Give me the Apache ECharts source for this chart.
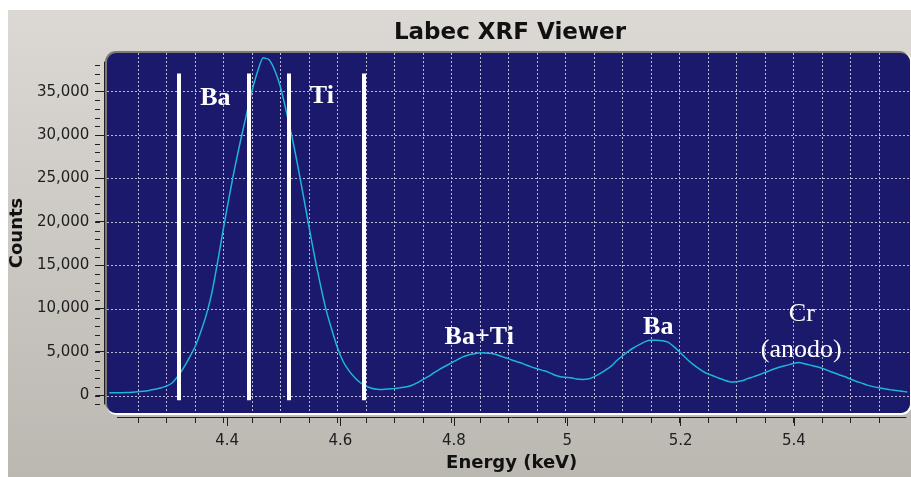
<!DOCTYPE html>
<html>
<head>
<meta charset="utf-8">
<script src="https://cdn.jsdelivr.net/npm/echarts@6/dist/echarts.min.js"></script>
<style>
  html, body { margin: 0; padding: 0; background: #ffffff; }
  #chart { width: 911px; height: 477px; }
</style>
</head>
<body>
<div id="chart"></div>
<script>
// Spectrum channels: first channel energy and channel width (keV)
const energyStart = 4.20;
const energyStep = 0.01;

// Counts per channel, 4.20 keV to 5.60 keV
const counts = [
  380, 370, 380, 390, 430, 500, 540, 640, 780, 920,
  1130, 1500, 2250, 3200, 4350, 5600, 7300, 9300, 11900, 15400,
  19200, 22800, 26200, 29300, 32200, 35000, 37300, 38900, 38700, 37500,
  35600, 32900, 30000, 26700, 23200, 19600, 16100, 12900, 10000, 7700,
  5600, 4000, 2950, 2150, 1550, 1150, 900, 780, 760, 810,
  870, 940, 1030, 1200, 1500, 1880, 2250, 2700, 3100, 3450,
  3800, 4150, 4500, 4720, 4850, 4980, 4950, 4880, 4750, 4500,
  4300, 4050, 3850, 3600, 3350, 3150, 2950, 2750, 2450, 2250,
  2150, 2100, 1950, 1900, 1950, 2200, 2550, 2950, 3400, 4050,
  4600, 5100, 5550, 5900, 6250, 6400, 6400, 6350, 6200, 5700,
  5100, 4450, 3850, 3350, 2900, 2550, 2300, 2050, 1800, 1620,
  1650, 1750, 2000, 2200, 2450, 2700, 2950, 3200, 3400, 3550,
  3750, 3850, 3700, 3550, 3400, 3200, 2950, 2700, 2450, 2250,
  1950, 1700, 1480, 1250, 1080, 950, 840, 730, 640, 550,
  450
];

// Axis ticks
const energyLabels = [4.4, 4.6, 4.8, 5.0, 5.2, 5.4];
const energyMinorTicks = [
  4.25, 4.30, 4.35, 4.40, 4.45, 4.50, 4.55, 4.60, 4.65, 4.70,
  4.75, 4.80, 4.85, 4.90, 4.95, 5.00, 5.05, 5.10, 5.15, 5.20,
  5.25, 5.30, 5.35, 5.40, 5.45, 5.50, 5.55
];
const countLabels = [0, 5000, 10000, 15000, 20000, 25000, 30000, 35000];
const countMinorTicks = [
  -1000, 0, 1000, 2000, 3000, 4000, 5000, 6000, 7000, 8000, 9000,
  10000, 11000, 12000, 13000, 14000, 15000, 16000, 17000, 18000, 19000,
  20000, 21000, 22000, 23000, 24000, 25000, 26000, 27000, 28000, 29000,
  30000, 31000, 32000, 33000, 34000, 35000, 36000, 37000, 38000
];

// Integration window boundaries (keV) and their vertical extent (counts)
const windowBounds = [4.322, 4.445, 4.515, 4.647];
const windowSpan = [-500, 37100];

// Peak annotations: text, energy, counts, bold
const peakNames = ['Ba', 'Ti', 'Ba+Ti', 'Ba', 'Cr', '(anodo)'];
const peakEnergy = [4.386, 4.573, 4.849, 5.163, 5.415, 5.414];
const peakCounts = [34300, 34500, 6800, 7850, 9450, 5300];
const peakBold = [true, true, true, true, false, false];

// ---- scale helpers: shared pixel mapping for the plot canvas and the axes
const E_REF = 4.4, X_REF = 223.3, PX_PER_KEV = 570;
const Y_REF = 396, PX_PER_COUNT = 43.47 / 5000;
const eAt = px => E_REF + (px - X_REF) / PX_PER_KEV;
const cAt = py => (Y_REF - py) / PX_PER_COUNT;

const canvasBox = { left: 107, top: 53, right: 910, bottom: 413 };
const axisBox = { left: 113, top: 62, right: 906, bottom: 405 };

function gridOf(b) {
  return { left: b.left, top: b.top, width: b.right - b.left, height: b.bottom - b.top, containLabel: false };
}

const spectrum = counts.map((c, i) => [+(energyStart + i * energyStep).toFixed(2), c]);

const tickColor = '#1e1e1e';
const axisFont = 'DejaVu Sans';
const gridLineStyle = { color: 'rgba(215,215,230,0.85)', width: 1, type: [2, 2] };

const option = {
  animation: false,
  backgroundColor: '#ffffff',
  title: {
    text: 'Labec XRF Viewer',
    left: 510,
    top: 22,
    padding: 0,
    textAlign: 'center',
    textStyle: { fontFamily: axisFont, fontWeight: 'bold', fontSize: 23, color: '#111111' }
  },
  graphic: [
    {
      type: 'rect', z: -20, silent: true,
      shape: { x: 8, y: 10, width: 903, height: 467 },
      style: {
        fill: new echarts.graphic.LinearGradient(0, 0, 0, 1, [
          { offset: 0, color: '#dcd8d3' },
          { offset: 1, color: '#bbb7b1' }
        ])
      }
    },
    {
      type: 'rect', z: -19, silent: true,
      shape: { x: 106, y: 52, width: 806, height: 363, r: 11 },
      style: { fill: '#ffffff' }
    },
    {
      type: 'rect', z: -18, silent: true,
      shape: { x: 105, y: 51, width: 805, height: 362, r: 11 },
      style: { fill: '#7d7b78' }
    },
    {
      type: 'rect', z: -17, silent: true,
      shape: { x: 107, y: 53, width: 803, height: 360, r: 9 },
      style: { fill: '#1a196c' }
    }
  ],
  grid: [gridOf(canvasBox), gridOf(axisBox), gridOf(axisBox)],
  xAxis: [
    {
      gridIndex: 0, type: 'value',
      min: eAt(canvasBox.left), max: eAt(canvasBox.right),
      axisLine: { show: false, onZero: false },
      axisTick: { show: false, customValues: energyMinorTicks },
      axisLabel: { show: false },
      splitLine: { show: true, lineStyle: gridLineStyle }
    },
    {
      gridIndex: 1, type: 'value',
      min: eAt(axisBox.left), max: eAt(axisBox.right),
      offset: 13,
      axisLine: { show: true, onZero: false, lineStyle: { color: tickColor, width: 1 } },
      axisTick: { show: true, customValues: energyLabels, length: 9, lineStyle: { color: tickColor, width: 1 } },
      axisLabel: {
        show: true, customValues: energyLabels, margin: 17,
        fontFamily: axisFont, fontSize: 15, color: tickColor,
        formatter: v => String(Math.round(v * 10) / 10)
      },
      splitLine: { show: false },
      name: 'Energy (keV)', nameLocation: 'middle', nameGap: 37,
      nameTextStyle: { fontFamily: axisFont, fontWeight: 'bold', fontSize: 18, color: '#111111' }
    },
    {
      gridIndex: 2, type: 'value',
      min: eAt(axisBox.left), max: eAt(axisBox.right),
      offset: 13,
      axisLine: { show: false, onZero: false },
      axisTick: { show: true, customValues: energyMinorTicks, length: 5, lineStyle: { color: tickColor, width: 1 } },
      axisLabel: { show: false },
      splitLine: { show: false }
    }
  ],
  yAxis: [
    {
      gridIndex: 0, type: 'value',
      min: cAt(canvasBox.bottom), max: cAt(canvasBox.top),
      axisLine: { show: false, onZero: false },
      axisTick: { show: false, customValues: countLabels },
      axisLabel: { show: false },
      splitLine: { show: true, lineStyle: gridLineStyle }
    },
    {
      gridIndex: 1, type: 'value',
      min: cAt(axisBox.bottom), max: cAt(axisBox.top),
      offset: 13,
      axisLine: { show: true, onZero: false, lineStyle: { color: tickColor, width: 1 } },
      axisTick: { show: true, customValues: countLabels, length: 9, lineStyle: { color: tickColor, width: 1 } },
      axisLabel: {
        show: true, customValues: countLabels, margin: 15,
        fontFamily: axisFont, fontSize: 15, color: tickColor,
        formatter: v => Math.round(v).toLocaleString('en-US')
      },
      splitLine: { show: false },
      name: 'Counts', nameLocation: 'middle', nameGap: 70,
      nameTextStyle: { fontFamily: axisFont, fontWeight: 'bold', fontSize: 18, color: '#111111' }
    },
    {
      gridIndex: 2, type: 'value',
      min: cAt(axisBox.bottom), max: cAt(axisBox.top),
      offset: 13,
      axisLine: { show: false, onZero: false },
      axisTick: { show: true, customValues: countMinorTicks, length: 5, lineStyle: { color: tickColor, width: 1 } },
      axisLabel: { show: false },
      splitLine: { show: false }
    }
  ],
  series: [
    {
      name: 'spectrum',
      type: 'line',
      xAxisIndex: 0, yAxisIndex: 0,
      data: spectrum,
      showSymbol: false,
      smooth: 0.2,
      clip: true,
      z: 3,
      lineStyle: { color: '#1db5d8', width: 1.5 }
    },
    {
      name: 'windows',
      type: 'line',
      xAxisIndex: 0, yAxisIndex: 0,
      data: [],
      z: 4,
      markLine: {
        silent: true,
        symbol: ['none', 'none'],
        label: { show: false },
        lineStyle: { color: '#ffffff', width: 4, type: 'solid', opacity: 1 },
        emphasis: { disabled: true },
        data: windowBounds.map(e => [
          { coord: [e, windowSpan[0]] },
          { coord: [e, windowSpan[1]] }
        ])
      }
    },
    {
      name: 'peaks',
      type: 'scatter',
      xAxisIndex: 0, yAxisIndex: 0,
      symbolSize: 1,
      itemStyle: { color: 'rgba(0,0,0,0)' },
      z: 5,
      silent: true,
      data: peakNames.map((n, i) => ({
        name: n,
        value: [peakEnergy[i], peakCounts[i]],
        label: { fontWeight: peakBold[i] ? 'bold' : 'normal' }
      })),
      label: {
        show: true,
        position: 'inside',
        formatter: p => p.name,
        fontFamily: 'Liberation Serif',
        fontSize: 26,
        color: '#ffffff',
        opacity: 1,
        textBorderWidth: 0,
        textShadowBlur: 0
      }
    }
  ]
};

const chart = echarts.init(document.getElementById('chart'), null, { renderer: 'canvas' });
chart.setOption(option);
</script>
</body>
</html>
